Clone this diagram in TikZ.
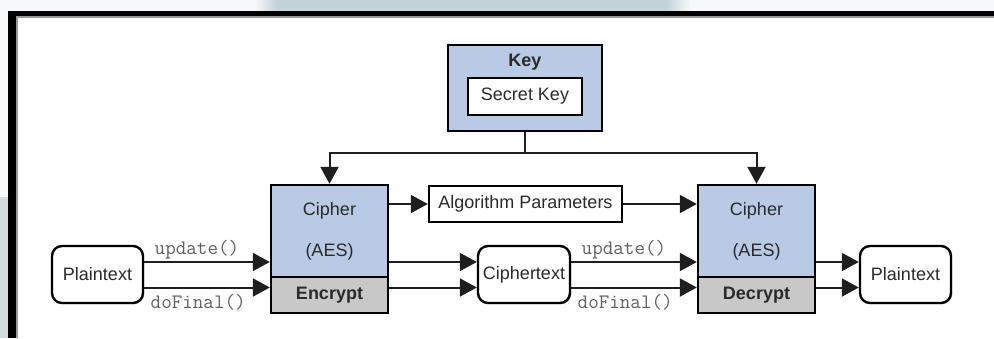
\documentclass[tikz,border=0pt]{standalone}
\usepackage{fontspec}
\setmainfont{Liberation Sans}
\usetikzlibrary{arrows.meta,shadows}

\definecolor{cipherblue}{HTML}{B8CAE4}
\definecolor{modegrey}{HTML}{C8C8C8}
\definecolor{wire}{HTML}{1E1E1E}
\definecolor{labelgrey}{HTML}{606060}
\definecolor{inktext}{HTML}{2A2A2A}
\definecolor{stripblue}{HTML}{C3D3DA}
\definecolor{stripgrey}{HTML}{D3DCDF}
\definecolor{paleback}{HTML}{F6F8F9}

\tikzset{
  box/.style={draw=black, line width=2.4pt, inner sep=0pt,
    drop shadow={shadow xshift=1.3pt, shadow yshift=-1.3pt, opacity=0.3}},
  roundbox/.style={box, rounded corners=10pt, fill=white},
  txt/.style={inner sep=0pt, text=inktext, font=\fontsize{18}{20}\selectfont},
  boldtxt/.style={txt, font=\bfseries\fontsize{18}{20}\selectfont},
  call/.style={inner sep=0pt, text=labelgrey, font=\ttfamily\fontsize{20.5}{22}\selectfont},
  arr/.style={draw=wire, line width=2pt, -{Triangle[length=17pt,width=18pt]}},
  wireline/.style={draw=wire, line width=2pt}
}

\begin{document}
\begin{tikzpicture}[x=1pt,y=-1pt]
\useasboundingbox (0,0) rectangle (994,338);

% page background and strips round the frame
\fill[white] (0,0) rectangle (994,338);
\fill[paleback] (0,0) rectangle (8,197);
\fill[stripgrey] (0,197) rectangle (8,338);
\fill[paleback] (0,0) rectangle (994,11);
\shade[left color=paleback, right color=stripblue] (255,0) rectangle (277,11);
\fill[stripblue] (277,0) rectangle (666,11);
\shade[left color=stripblue, right color=paleback] (666,0) rectangle (690,11);

% black frame
\fill[black!40] (16,16) rectangle (994,17.5);
\fill[black!40] (16,16) rectangle (17.5,338);
\fill[black] (8,11) rectangle (994,16);
\fill[black] (8,11) rectangle (16,338);

% key block
\node[box, fill=cipherblue, minimum width=154pt, minimum height=86pt] (key) at (525,88) {};
\node[boldtxt] (keytitle) at (525,62) {Key};
\node[box, fill=white, minimum width=114pt, minimum height=37pt] (secret) at (525,96.5) {};
\node[txt] (secrettxt) at (525,96.5) {Secret Key};

% encrypting cipher
\node[box, fill=cipherblue, minimum width=117pt, minimum height=92pt] (cipherA) at (329.5,231) {};
\node[box, fill=modegrey, minimum width=117pt, minimum height=36pt] (encA) at (329.5,295) {};
\node[txt] (cipherAname) at (329.5,211) {Cipher};
\node[txt] (cipherAalg) at (329.5,252) {(AES)};
\node[boldtxt] (encAtxt) at (329.5,295) {Encrypt};

% decrypting cipher
\node[box, fill=cipherblue, minimum width=117pt, minimum height=92pt] (cipherB) at (756.5,231) {};
\node[box, fill=modegrey, minimum width=117pt, minimum height=36pt] (decB) at (756.5,295) {};
\node[txt] (cipherBname) at (756.5,211) {Cipher};
\node[txt] (cipherBalg) at (756.5,252) {(AES)};
\node[boldtxt] (decBtxt) at (756.5,295) {Decrypt};

% parameters, data boxes
\node[box, fill=white, minimum width=193pt, minimum height=36pt] (params) at (525.5,204) {};
\node[txt] (paramstxt) at (525.5,204) {Algorithm Parameters};
\node[roundbox, minimum width=91pt, minimum height=57pt] (plainA) at (97.5,274.5) {};
\node[txt] (plainAtxt) at (97.5,274.5) {Plaintext};
\node[roundbox, minimum width=92pt, minimum height=57pt] (cipherText) at (524,274.5) {};
\node[txt] (cipherTexttxt) at (524,274.5) {Ciphertext};
\node[roundbox, minimum width=91pt, minimum height=57pt] (plainB) at (905.5,274.5) {};
\node[txt] (plainBtxt) at (905.5,274.5) {Plaintext};

% key distribution
\coordinate (split) at (525,153);
\draw[wireline] (key.south) -- (split);
\draw[arr] (split) -| (cipherA.north);
\draw[arr] (split) -| (cipherB.north);

% parameters handed from one cipher to the other
\draw[arr] (cipherA.east |- params.west) -- (params.west);
\draw[arr] (params.east) -- (cipherB.west |- params.east);

% data flow
\draw[arr] ([yshift=12.5pt]plainA.east) -- ([yshift=12.5pt]plainA.east -| cipherA.west)
  node[call, pos=0.42, yshift=12pt] (updA) {update()};
\draw[arr] ([yshift=-13pt]plainA.east) -- ([yshift=-13pt]plainA.east -| cipherA.west)
  node[call, pos=0.43, yshift=-15pt] (finA) {doFinal()};
\draw[arr] ([yshift=12.5pt]cipherA.east |- cipherText.west) -- ([yshift=12.5pt]cipherText.west);
\draw[arr] ([yshift=-13pt]cipherA.east |- cipherText.west) -- ([yshift=-13pt]cipherText.west);
\draw[arr] ([yshift=12.5pt]cipherText.east) -- ([yshift=12.5pt]cipherText.east -| cipherB.west)
  node[call, pos=0.42, yshift=12pt] (updB) {update()};
\draw[arr] ([yshift=-13pt]cipherText.east) -- ([yshift=-13pt]cipherText.east -| cipherB.west)
  node[call, pos=0.43, yshift=-15pt] (finB) {doFinal()};
\draw[arr] ([yshift=12.5pt]cipherB.east |- plainB.west) -- ([yshift=12.5pt]plainB.west);
\draw[arr] ([yshift=-13pt]cipherB.east |- plainB.west) -- ([yshift=-13pt]plainB.west);
\end{tikzpicture}
\end{document}
